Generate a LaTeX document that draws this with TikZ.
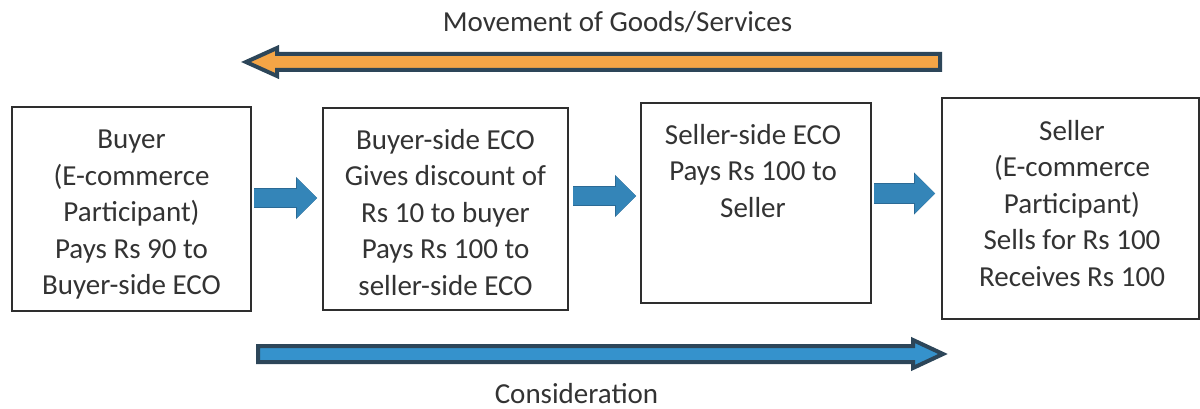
\documentclass[tikz,border=0pt]{standalone}
\usepackage{fontspec}
\setmainfont{Carlito}
\usetikzlibrary{arrows.meta,calc}
\definecolor{txtc}{HTML}{333333}
\definecolor{boxc}{HTML}{2E2E2E}
\definecolor{orangefill}{HTML}{F5A546}
\definecolor{darkedge}{HTML}{2D4659}
\definecolor{bluefill}{HTML}{3592CC}
\definecolor{smallblue}{HTML}{3485B8}
\definecolor{smalledge}{HTML}{2B6A95}
\begin{document}
\begin{tikzpicture}[x=1pt,y=-1pt,
  box/.style={draw=boxc, line width=2pt, inner sep=0pt, fill=white},
  txt/.style={text=txtc, font=\fontsize{29}{36.5}\selectfont, align=center, inner sep=0pt},
  lbl/.style={text=txtc, font=\fontsize{29}{36.5}\selectfont, inner sep=0pt},
  flow/.style={draw=smallblue, line width=18pt,
    -{Triangle[length=20pt,width=39pt,line width=0pt]},
    preaction={draw=smalledge, line width=20pt, -{Triangle[length=21pt,width=42pt,line width=0pt]}}},
  bigarrow/.style={draw=darkedge, line width=4pt, line join=miter}
]
\fill[white] (0,0) rectangle (1200,409);
\useasboundingbox (0,0) rectangle (1200,409);

% boxes
\node[box, minimum width=239pt, minimum height=204pt] (b1) at (131.5,209) {};
\node[box, minimum width=245pt, minimum height=202pt] (b2) at (445.5,209) {};
\node[box, minimum width=230pt, minimum height=200pt] (b3) at (756,203) {};
\node[box, minimum width=257pt, minimum height=221pt] (b4) at (1070.5,208.5) {};

% box texts
\node[txt] (t1) at ($(b1.center)+(0,6)$) {Buyer\\(E-commerce\\Participant)\\Pays Rs 90 to\\Buyer-side ECO};
\node[txt] (t2) at ($(b2.center)+(0,3.5)$) {Buyer-side ECO\\Gives discount of\\Rs 10 to buyer\\Pays Rs 100 to\\seller-side ECO};
\node[txt] (t3) at ($(b3.center)+(-3,-32)$) {Seller-side ECO\\Pays Rs 100 to\\Seller};
\node[txt] (t4) at ($(b4.center)+(1.5,-5)$) {Seller\\(E-commerce\\Participant)\\Sells for Rs 100\\Receives Rs 100};

% connectors between boxes
\draw[flow] ($(b1.east)+(2,-11)$) -- ($(b2.west |- b1.east)+(-5,-11)$);
\draw[flow] ($(b2.east)+(4,-13)$) -- ($(b3.west |- b2.east)+(-4,-13)$);
\draw[flow] ($(b3.east)+(2,-9.5)$) -- ($(b4.west |- b3.east)+(-6,-9.5)$);

% big arrows
\filldraw[bigarrow, fill=orangefill] (940,54) -- (277,54) -- (277,48) -- (246,62) -- (277,76) -- (277,70) -- (940,70) -- cycle;
\filldraw[bigarrow, fill=bluefill] (258,346) -- (913,346) -- (913,340) -- (943,354) -- (913,368) -- (913,362) -- (258,362) -- cycle;

% labels
\node[lbl, anchor=base] (mv) at (617.5,32) {Movement of Goods/Services};
\node[lbl, anchor=base] (cons) at (576.5,403) {Consideration};
\end{tikzpicture}
\end{document}
